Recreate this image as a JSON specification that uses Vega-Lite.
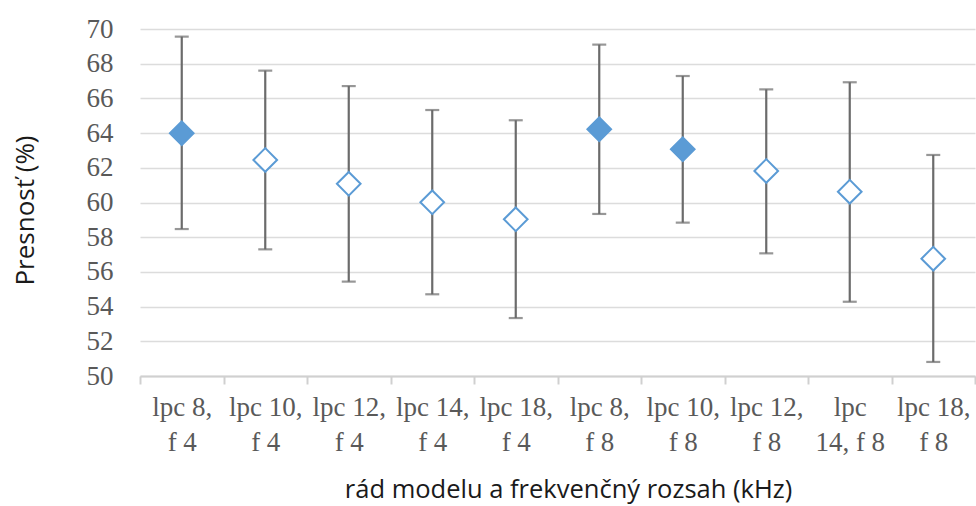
{
  "$schema": "https://vega.github.io/schema/vega-lite/v6.json",
  "autosize": "none",
  "width": 835,
  "height": 347,
  "padding": {"left": 140, "top": 29, "right": 1, "bottom": 130},
  "background": "white",
  "config": {
    "view": {"stroke": null}
  },
  "data": {
    "values": [
      {"config": "lpc 8, f 4", "mean": 63.99, "lo": 58.47, "hi": 69.56, "marked": true},
      {"config": "lpc 10, f 4", "mean": 62.45, "lo": 57.30, "hi": 67.60, "marked": false},
      {"config": "lpc 12, f 4", "mean": 61.08, "lo": 55.44, "hi": 66.71, "marked": false},
      {"config": "lpc 14, f 4", "mean": 60.01, "lo": 54.71, "hi": 65.33, "marked": false},
      {"config": "lpc 18, f 4", "mean": 59.03, "lo": 53.34, "hi": 64.74, "marked": false},
      {"config": "lpc 8, f 8", "mean": 64.22, "lo": 59.34, "hi": 69.10, "marked": true},
      {"config": "lpc 10, f 8", "mean": 63.07, "lo": 58.84, "hi": 67.29, "marked": true},
      {"config": "lpc 12, f 8", "mean": 61.82, "lo": 57.07, "hi": 66.52, "marked": false},
      {"config": "lpc 14, f 8", "mean": 60.62, "lo": 54.28, "hi": 66.93, "marked": false},
      {"config": "lpc 18, f 8", "mean": 56.76, "lo": 50.81, "hi": 62.74, "marked": false}
    ]
  },
  "encoding": {
    "x": {
      "field": "config",
      "type": "nominal",
      "sort": null,
      "scale": {"paddingInner": 0, "paddingOuter": 0},
      "axis": {
        "title": "rád modelu a frekvenčný rozsah (kHz)",
        "titleFont": "Open Sans",
        "titleFontSize": 25.5,
        "titleFontWeight": "normal",
        "titleColor": "#1a1a1a",
        "titleX": 428,
        "titleY": 113,
        "titleBaseline": "middle",
        "titleAlign": "center",
        "labelAngle": 0,
        "labelAlign": "center",
        "labelBaseline": "top",
        "labelFont": "Liberation Serif",
        "labelFontSize": 27,
        "labelColor": "#595959",
        "labelLineHeight": 35,
        "labelPadding": 10,
        "labelOverlap": false,
        "labelLimit": 0,
        "labelExpr": "!datum.label ? '' : (datum.label == 'lpc 14, f 8' ? ['lpc', '14, f 8'] : [split(datum.label, ' f')[0], 'f' + split(datum.label, ' f')[1]])",
        "tickBand": "extent",
        "tickSize": 8,
        "tickColor": "#d0d0d0",
        "tickWidth": 2,
        "domainColor": "#d0d0d0",
        "domainWidth": 2,
        "grid": false
      }
    },
    "y": {
      "field": "mean",
      "type": "quantitative",
      "scale": {"domain": [50, 70], "nice": false, "zero": false},
      "axis": {
        "values": [50, 52, 54, 56, 58, 60, 62, 64, 66, 68, 70],
        "labelOverlap": false,
        "title": "Presnosť (%)",
        "titleFont": "Open Sans",
        "titleFontSize": 26,
        "titleFontWeight": "normal",
        "titleColor": "#1a1a1a",
        "titleAngle": -90,
        "titleX": -115,
        "titleY": 181,
        "titleAlign": "center",
        "titleBaseline": "middle",
        "labelFont": "Liberation Serif",
        "labelFontSize": 27,
        "labelColor": "#595959",
        "labelAlign": "right",
        "labelBaseline": "middle",
        "labelPadding": 27,
        "ticks": false,
        "tickSize": 0,
        "domain": false,
        "grid": true,
        "gridColor": "#dcdcdc",
        "gridWidth": 1.6
      }
    }
  },
  "layer": [
    {
      "mark": {"type": "rule", "color": "#6b6b6b", "strokeWidth": 2.2},
      "encoding": {
        "y": {"field": "lo", "type": "quantitative"},
        "y2": {"field": "hi"}
      }
    },
    {
      "mark": {"type": "tick", "color": "#6b6b6b", "size": 14, "thickness": 2.2, "orient": "horizontal"},
      "encoding": {"y": {"field": "lo", "type": "quantitative"}}
    },
    {
      "mark": {"type": "tick", "color": "#6b6b6b", "size": 14, "thickness": 2.2, "orient": "horizontal"},
      "encoding": {"y": {"field": "hi", "type": "quantitative"}}
    },
    {
      "mark": {"type": "point", "shape": "diamond", "size": 560, "stroke": "#5B9BD5", "strokeWidth": 2, "opacity": 1},
      "encoding": {
        "fill": {"condition": {"test": "datum.marked", "value": "#5B9BD5"}, "value": "white"},
        "fillOpacity": {"value": 1}
      }
    }
  ]
}
